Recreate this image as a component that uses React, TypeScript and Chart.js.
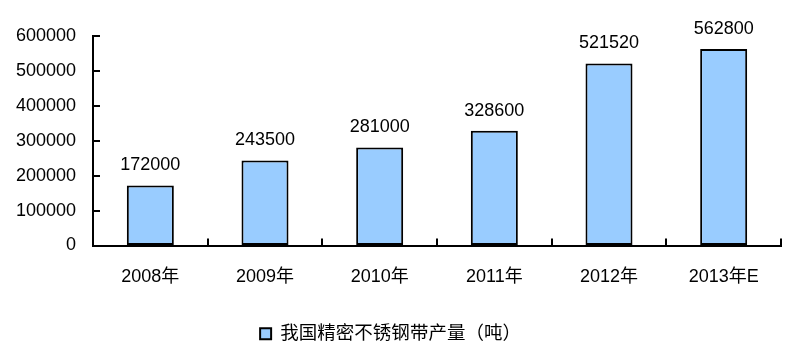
import React, { useEffect, useRef } from "react";
import { Chart, registerables } from "chart.js";

Chart.register(...registerables);

const categories = ["2008年", "2009年", "2010年", "2011年", "2012年", "2013年E"];
const production = [172000, 243500, 281000, 328600, 521520, 562800];
const seriesName = "我国精密不锈钢带产量（吨）";
const yMin = 0;
const yMax = 600000;
const yStep = 100000;

const FONT = "'Liberation Sans', Arial, 'Noto Sans CJK SC', sans-serif";

const valueLabels = {
  id: "valueLabels",
  afterDatasetsDraw(chart: any) {
    const ctx = chart.ctx;
    const meta = chart.getDatasetMeta(0);
    ctx.save();
    ctx.font = `18px ${FONT}`;
    ctx.fillStyle = "#000";
    ctx.textAlign = "center";
    ctx.textBaseline = "alphabetic";
    meta.data.forEach((bar: any, i: number) => {
      const v = chart.data.datasets[0].data[i];
      ctx.fillText(String(v), bar.x, bar.y - 15);
    });
    ctx.restore();
  },
};

const innerTicks = {
  id: "innerTicks",
  afterDraw(chart: any) {
    const ctx = chart.ctx;
    const xs = chart.scales.x;
    const ys = chart.scales.y;
    ctx.save();
    ctx.strokeStyle = "#000";
    ctx.lineWidth = 2;
    ctx.beginPath();
    ys.ticks.forEach((_t: any, i: number) => {
      const py = Math.round(ys.getPixelForTick(i));
      ctx.moveTo(ys.right, py);
      ctx.lineTo(ys.right + 7, py);
    });
    const n = categories.length;
    const step = xs.width / n;
    for (let i = 1; i <= n; i++) {
      const px = Math.round(xs.left + step * i);
      ctx.moveTo(px, xs.top);
      ctx.lineTo(px, xs.top - 7);
    }
    ctx.stroke();
    ctx.restore();
  },
};

export default function App() {
  const ref = useRef<HTMLCanvasElement | null>(null);
  useEffect(() => {
    document.body.style.margin = "0";
    const chart = new Chart(ref.current as HTMLCanvasElement, {
      type: "bar",
      data: {
        labels: categories,
        datasets: [
          {
            label: seriesName,
            data: production,
            backgroundColor: "#99CCFF",
            borderColor: "#000000",
            borderWidth: 2,
            borderSkipped: false,
            barPercentage: 0.41,
            categoryPercentage: 1,
          },
        ],
      },
      options: {
        animation: false,
        responsive: false,
        maintainAspectRatio: false,
        layout: { padding: { left: 0, right: 6, top: 36, bottom: 11 } },
        plugins: {
          legend: {
            position: "bottom",
            labels: {
              font: { size: 18.5, family: FONT },
              color: "#000",
              boxWidth: 11,
              boxHeight: 11,
              padding: 10,
            },
          },
          tooltip: { enabled: false },
        },
        scales: {
          x: {
            grid: { display: true, drawOnChartArea: false, drawTicks: false },
            border: { display: true, color: "#000", width: 2 },
            ticks: { font: { size: 18, family: FONT }, color: "#000", padding: 21, maxRotation: 0 },
            afterFit(scale: any) {
              scale.height = 69;
            },
          },
          y: {
            min: yMin,
            max: yMax,
            grid: { display: true, drawOnChartArea: false, drawTicks: false },
            border: { display: true, color: "#000", width: 2 },
            ticks: {
              stepSize: yStep,
              font: { size: 18, family: FONT },
              color: "#000",
              padding: 17,
              callback: (v: any) => String(v),
            },
            afterFit(scale: any) {
              scale.width = 93;
            },
          },
        },
      },
      plugins: [valueLabels, innerTicks],
    });
    return () => chart.destroy();
  }, []);
  return (
    <div style={{ width: 787, height: 364, background: "#fff" }}>
      <canvas ref={ref} width={787} height={364} style={{ display: "block" }} />
    </div>
  );
}
